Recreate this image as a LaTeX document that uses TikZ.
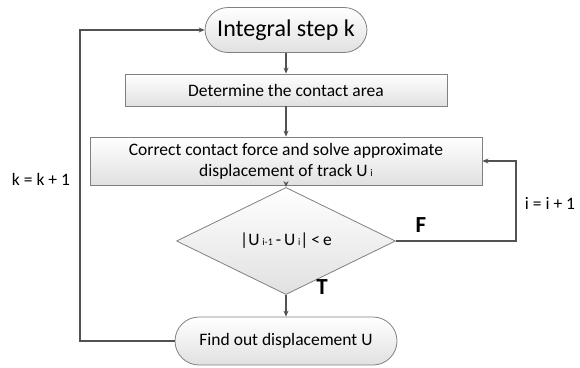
\documentclass[tikz,border=0pt]{standalone}
\usepackage{fontspec}
\setmainfont{Carlito}
\usetikzlibrary{shapes.geometric,arrows.meta}
\begin{document}
\begin{tikzpicture}[x=1pt,y=-1pt,
  box/.style={draw=black!50,line width=0.8pt,shade,top color=white,bottom color=black!12,
    inner sep=0pt,font=\fontsize{17.5}{21}\selectfont,align=center},
  term/.style={box,rounded corners=23pt},
  flow/.style={draw=black!68,line width=2pt,-{Stealth[length=6pt,width=5pt]}},
  lbl/.style={font=\fontsize{17.5}{21}\selectfont},
  tf/.style={font=\fontsize{23}{25}\selectfont\bfseries}]
\useasboundingbox (0,0) rectangle (580,367);
\node[term,minimum width=162pt,minimum height=45pt,font=\fontsize{24}{28}\selectfont] (start) at (286,30) {Integral step k};
\node[box,minimum width=322pt,minimum height=32pt] (area) at (286,90) {Determine the contact area};
\node[box,minimum width=392pt,minimum height=48pt] (force) at (286,161)
  {Correct contact force and solve approximate\\displacement of track U\,{\fontsize{10}{10}\selectfont i}};
\node[box,shape=diamond,minimum width=219pt,minimum height=65pt] (test) at (286,241)
  {|U\,{\fontsize{10}{10}\selectfont i-1}\,-\,U\,{\fontsize{10}{10}\selectfont i}|\,<\,e};
\node[term,minimum width=222pt,minimum height=48pt,rounded corners=24pt] (finish) at (286,341) {Find out displacement U};
\coordinate (lb) at (80,341);
\coordinate (lt) at (80,30);
\coordinate (rb) at (516,241);
\coordinate (rt) at (516,161);
\draw[flow] (start) -- (area);
\draw[flow] (area) -- (force);
\draw[flow] (force) -- (test);
\draw[flow] (test) -- (finish);
\draw[flow] (finish.west) -- (lb) -- (lt) -- (start.west);
\draw[flow] (test.east) -- (rb) -- (rt) -- (force.east);
\node[lbl] (kk) at (41,179) {k = k + 1};
\node[lbl] (ii) at (550,203) {i = i + 1};
\node[tf] (fl) at (421,225) {F};
\node[tf] (tl) at (322,287) {T};
\end{tikzpicture}
\end{document}
